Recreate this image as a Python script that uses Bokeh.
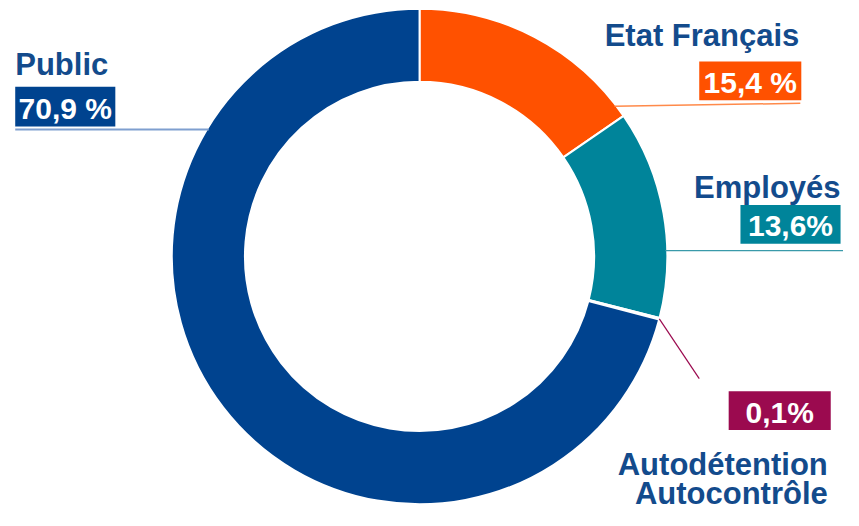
import math
from bokeh.plotting import figure
from bokeh.models import Range1d
from bokeh.core.properties import value
from bokeh.embed import file_html
from bokeh.resources import INLINE

# ---- data ----
categories = ["Etat Français", "Employés", "Autodétention\nAutocontrôle", "Public"]
shares = [15.4, 13.6, 0.1, 70.9]
value_labels = ["15,4 %", "13,6%", "0,1%", "70,9 %"]
colors = ["#ff5100", "#00849a", "#9b0a4f", "#00438f"]

TEXT_COLOR = "#134b8c"
FONT = value("Liberation Sans")

# reference canvas is 859x526; the figure is 843x510 and shows all of it
REF_W, REF_H = 859, 526
W, H = 843, 510
SX, SY = W / REF_W, H / REF_H

p = figure(width=W, height=H, output_backend="svg", toolbar_location=None,
           x_range=Range1d(0, REF_W), y_range=Range1d(0, REF_H),
           x_axis_location=None, y_axis_location=None, min_border=0)
p.grid.visible = False
p.outline_line_color = None
p.background_fill_color = "white"
p.border_fill_color = "white"


def Y(ys):
    return REF_H - ys


TXT_OFF = 10.5  # baseline correction (reference px)

cx, cy = 427, Y(264)
k = ((SX + SY) / 2) / SX
R_out, R_in = 254 * k, 179 * k

total = sum(shares)
starts, ends = [], []
cum = 0.0
for s in shares:
    a0 = math.pi / 2 - 2 * math.pi * cum / total
    cum += s
    a1 = math.pi / 2 - 2 * math.pi * cum / total
    starts.append(a0)
    ends.append(a1)

p.annular_wedge(x=cx, y=cy, inner_radius=R_in, outer_radius=R_out,
                start_angle=starts, end_angle=ends, direction="clock",
                fill_color=colors, line_color="white", line_width=2)

# ---- leader lines (layout) ----
mid = []
cum = 0.0
for s in shares:
    mid.append((cum + s / 2) / total * 360)
    cum += s


def ring_x(ys, side):
    dy = (Y(ys) - cy) * SY / SX
    return cx + side * math.sqrt(max(R_out**2 - dy**2, 0))


# Etat
p.line([ring_x(109, 1) - 2, 815], [Y(109), Y(106)], line_color="#ff8a4a", line_width=1.5)
# Employés
p.line([ring_x(258, 1) - 2, 859], [Y(258), Y(258)], line_color="#3a9aaa", line_width=1.2)
# Autodétention
a = math.radians(mid[2])
ax = cx + R_out * math.sin(a)
ay = cy + R_out * math.cos(a) * SX / SY
p.line([ax, 712], [ay, Y(390)], line_color="#9b0a4f", line_width=1.2)
# Public
p.line([15, ring_x(133, -1) + 2], [Y(133), Y(133)], line_color="#7f9fcf", line_width=2)

# ---- value boxes (layout) ----
boxes = {
    0: (712, 816, 63, 103),
    1: (754, 856, 211, 251),
    2: (742, 846, 403, 443),
    3: (15, 117, 89, 130),
}
for i, (l, r, t, b) in boxes.items():
    p.quad(left=l, right=r, top=Y(t), bottom=Y(b), fill_color=colors[i], line_color=None)
    p.text(x=[(l + r) / 2], y=[Y(b - 8) + TXT_OFF], text=[value_labels[i]],
           text_color="white", text_font=FONT, text_font_style="bold",
           text_font_size="30px", text_align="center", text_baseline="alphabetic")


# ---- category labels (layout) ----
def label(txt, x, y, align):
    p.text(x=[x], y=[Y(y) + TXT_OFF], text=[txt], text_color=TEXT_COLOR, text_font=FONT,
           text_font_style="bold", text_font_size="31px", text_align=align,
           text_baseline="alphabetic")


label(categories[3], 15, 77, "left")
label(categories[0], 814, 47, "right")
label(categories[1], 856, 203, "right")
l1, l2 = categories[2].split("\n")
label(l1, 843, 489, "right")
label(l2, 843, 519, "right")

open("out.html", "w").write(file_html(p, INLINE))
